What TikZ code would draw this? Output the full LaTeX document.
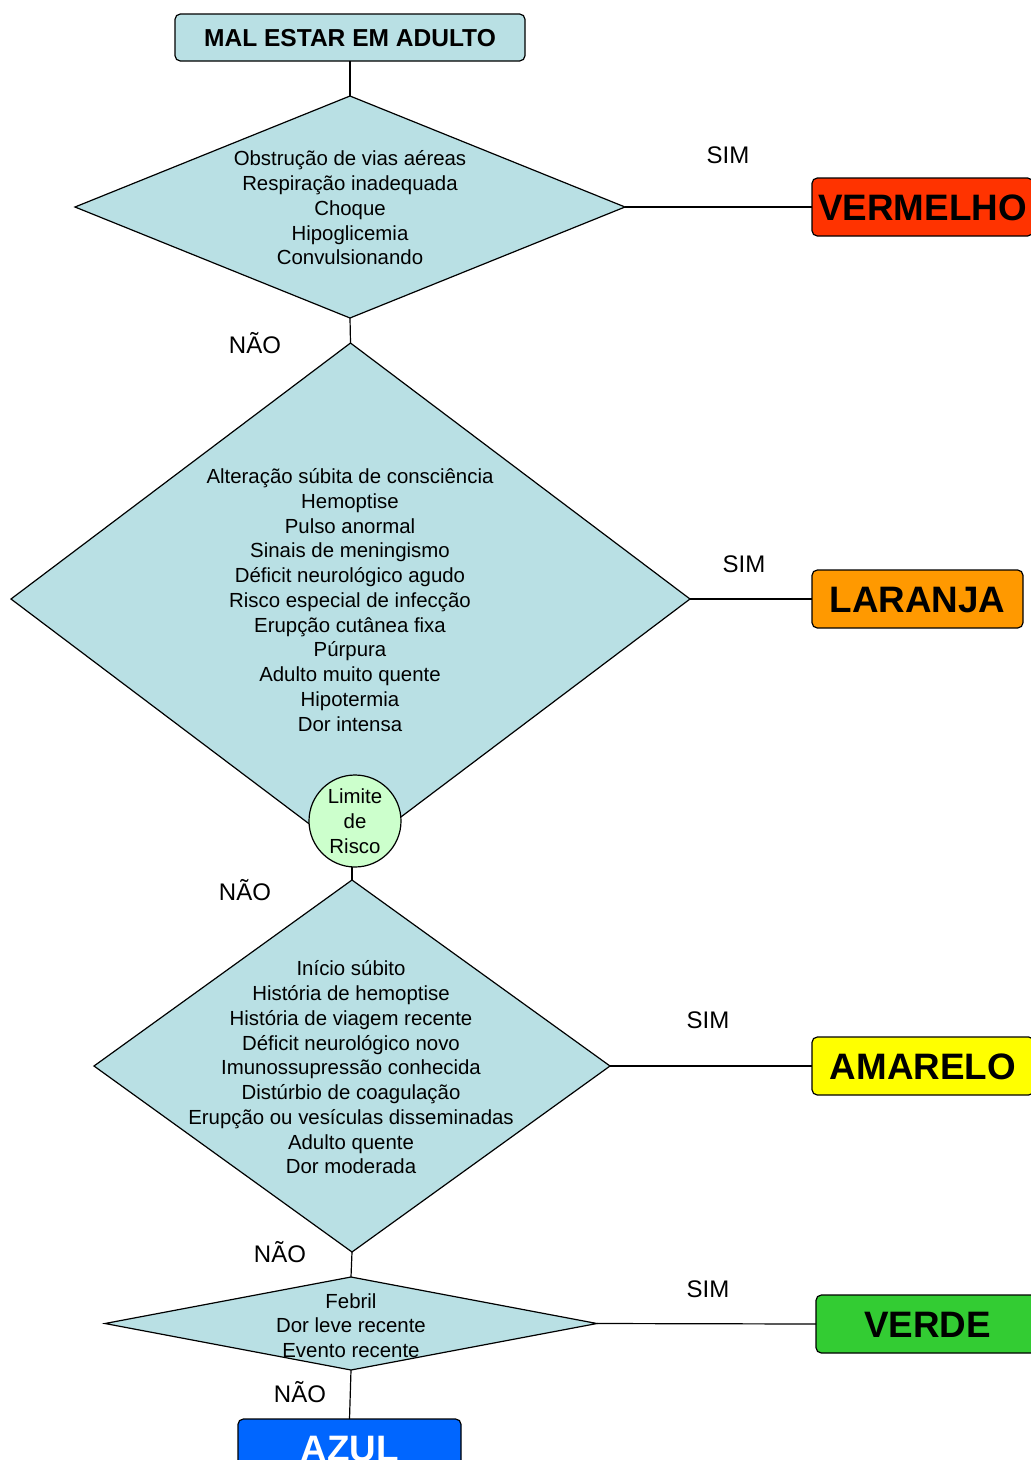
\documentclass[tikz,border=0pt]{standalone}
\usepackage{fontspec}
\setmainfont{Liberation Sans}
\usetikzlibrary{shapes.geometric}
\definecolor{diafill}{RGB}{185,224,228}
\definecolor{vermelho}{RGB}{255,51,0}
\definecolor{laranja}{RGB}{255,153,0}
\definecolor{amarelo}{RGB}{255,255,0}
\definecolor{verde}{RGB}{51,204,51}
\definecolor{azul}{RGB}{0,102,255}
\definecolor{limfill}{RGB}{204,255,204}
\tikzset{
  dia/.style={diamond, draw=black, fill=diafill, line width=0.9pt, inner sep=0pt, outer sep=0pt},
  dtext/.style={align=center, font=\fontsize{15.3}{18.56}\selectfont, inner sep=0pt},
  colbox/.style={rectangle, rounded corners=4pt, draw=black, line width=0.9pt, minimum height=43.5pt,
    inner sep=0pt, outer sep=0pt, text height=19.76pt, text depth=0pt, font=\fontsize{27.6}{30}\selectfont\bfseries},
  lab/.style={font=\fontsize{18}{20}\selectfont, inner sep=0pt, text height=12.9pt, text depth=0pt},
  conn/.style={line width=0.9pt}
}
\begin{document}
\begin{tikzpicture}[x=0.75pt,y=-0.75pt]
\useasboundingbox (0,0) rectangle (1031,1460);
\fill[white] (0,0) rectangle (1031,1460);

% title
\node[rectangle, rounded corners=4pt, draw=black, line width=0.9pt, fill=diafill, minimum width=262.5pt,
  minimum height=35.25pt, inner sep=0pt, outer sep=0pt, text height=13.2pt, text depth=0pt,
  font=\fontsize{18.4}{20}\selectfont\bfseries] (title) at (350,37.5) {MAL ESTAR EM ADULTO};

% diamond 1
\node[dia, minimum width=412.5pt, minimum height=166.5pt] (d1) at (350,207) {};
\node[dtext] (t1) at (350,208) {Obstrução de vias aéreas\\Respiração inadequada\\Choque\\Hipoglicemia\\Convulsionando};
\node[colbox, fill=vermelho, minimum width=165.75pt, anchor=west] (red) at (812,207) {VERMELHO};

% diamond 2
\node[dia, minimum width=509.25pt, minimum height=384pt] (d2) at (350.5,599) {};
\node[dtext] (t2) at (350,600) {Alteração súbita de consciência\\Hemoptise\\Pulso anormal\\Sinais de meningismo\\Déficit neurológico agudo\\Risco especial de infecção\\Erupção cutânea fixa\\Púrpura\\Adulto muito quente\\Hipotermia\\Dor intensa};
\node[circle, draw=black, line width=0.9pt, fill=limfill, minimum size=69pt, inner sep=0pt, outer sep=0pt,
  align=center, font=\fontsize{15.3}{18.75}\selectfont] (lim) at (355,821) {Limite\\de\\Risco};
\node[colbox, fill=laranja, minimum width=158.25pt, anchor=west] (orange) at (812,599) {LARANJA};

% diamond 3
\node[dia, minimum width=387pt, minimum height=279pt] (d3) at (352,1066) {};
\node[dtext] (t3) at (351,1067.5) {Início súbito\\História de hemoptise\\História de viagem recente\\Déficit neurológico novo\\Imunossupressão conhecida\\Distúrbio de coagulação\\Erupção ou vesículas disseminadas\\Adulto quente\\Dor moderada};
\node[colbox, fill=amarelo, minimum width=166.5pt, anchor=west] (yellow) at (812,1066) {AMARELO};

% diamond 4
\node[dia, minimum width=369pt, minimum height=69.75pt] (d4) at (351,1323.5) {};
\node[dtext] (t4) at (351,1325.5) {Febril\\Dor leve recente\\Evento recente};
\node[colbox, fill=verde, minimum width=167.25pt, anchor=west] (green) at (816,1324) {VERDE};

% azul
\node[colbox, fill=azul, text=white, minimum width=167.25pt, anchor=north] (blue) at (349.5,1419) {AZUL};

% connectors
\draw[conn] (title.south) -- (d1.north);
\draw[conn] (d1.east) -- (red.west);
\draw[conn] (d1.south) -- (d2.north);
\draw[conn] (d2.east) -- (orange.west);
\draw[conn] (d3.north |- lim.south) -- (d3.north);
\draw[conn] (d3.east) -- (yellow.west);
\draw[conn] (d3.south) -- (d4.north);
\draw[conn] (d4.east) -- (green.west);
\draw[conn] (d4.south) -- (blue.north);

% labels
\node[lab] (s1) at (728,155) {SIM};
\node[lab] (n1) at (255,345) {NÃO};
\node[lab] (s2) at (744,564) {SIM};
\node[lab] (n2) at (245,892) {NÃO};
\node[lab] (s3) at (708,1020) {SIM};
\node[lab] (n3) at (280,1254) {NÃO};
\node[lab] (s4) at (708,1289) {SIM};
\node[lab] (n4) at (300,1394) {NÃO};
\end{tikzpicture}
\end{document}
